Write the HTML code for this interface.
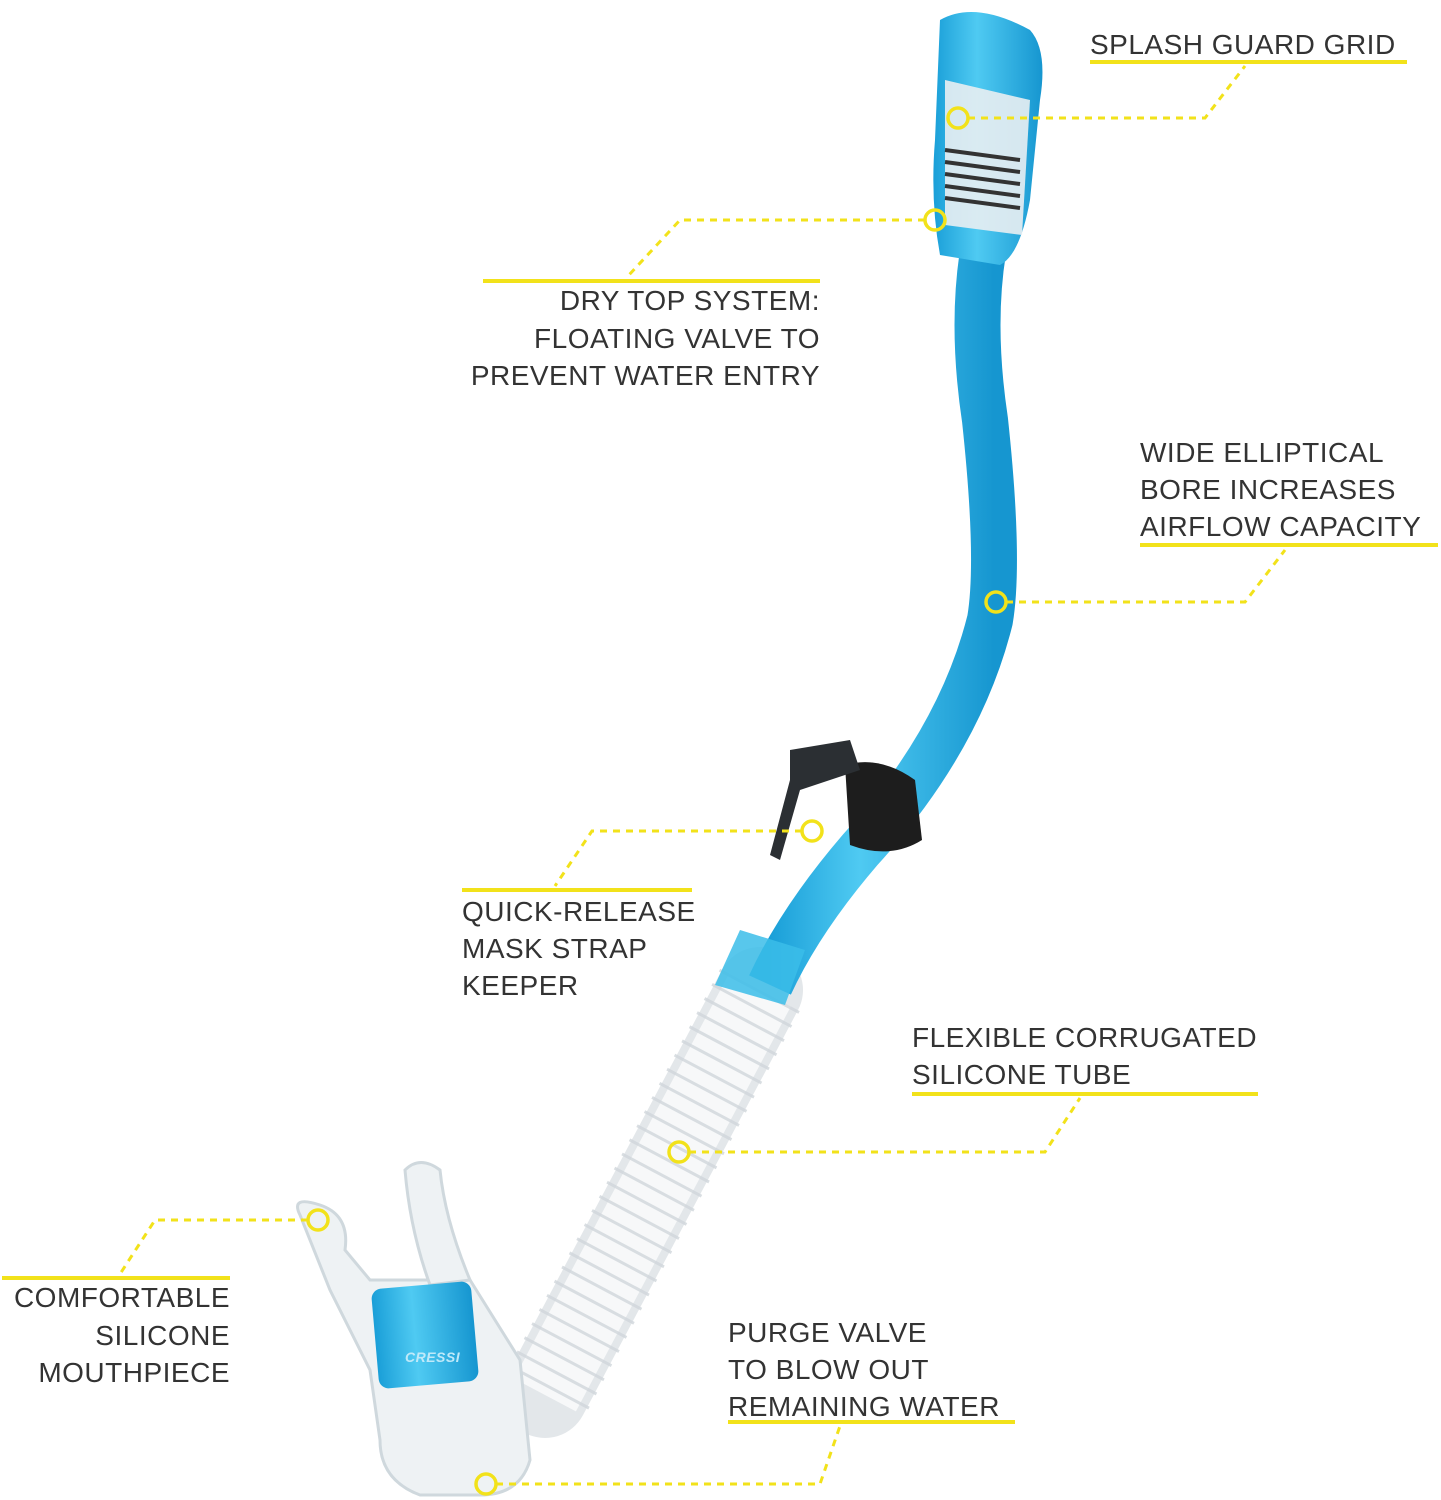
<!DOCTYPE html>
<html><head><meta charset="utf-8"><style>
html,body{margin:0;padding:0;background:#fff;}
svg{display:block}
text{font-family:"Liberation Sans",sans-serif;font-size:28px;fill:#333;letter-spacing:0.5px}
.u{stroke:#f2e21a;stroke-width:4}
.d{stroke:#f2e21a;stroke-width:3;stroke-dasharray:7 6;fill:none}
.c{stroke:#f2e21a;stroke-width:3.5;fill:none}
</style></head><body>
<svg width="1441" height="1500" viewBox="0 0 1441 1500" xmlns="http://www.w3.org/2000/svg">
<defs>
<linearGradient id="bl" x1="0" y1="0" x2="1" y2="0">
<stop offset="0" stop-color="#1a9fd8"/><stop offset="0.4" stop-color="#4fcaf2"/><stop offset="1" stop-color="#1696d0"/>
</linearGradient>
</defs>
<path d="M760 990 L545 1395" stroke="#e3e7ea" stroke-width="86" fill="none" stroke-linecap="round"/>
<path d="M760 990 L545 1395" stroke="#f7f8f9" stroke-width="70" fill="none"/>
<path d="M760 990 L545 1395" stroke="#cfd6db" stroke-width="90" fill="none" stroke-dasharray="3 13" opacity="0.8"/>
<path d="M300 1215 Q290 1195 320 1205 Q350 1215 345 1250 L370 1280 L470 1280 L520 1360 L530 1460 Q520 1495 480 1495 L420 1495 Q380 1480 380 1440 L370 1370 L330 1290 Z" fill="#eef2f4" stroke="#cfd8dd" stroke-width="3"/>
<path d="M405 1170 Q420 1155 440 1170 Q445 1220 470 1280 L430 1285 Q410 1230 405 1170Z" fill="#eef2f4" stroke="#cfd8dd" stroke-width="3"/>
<rect x="375" y="1285" width="100" height="100" rx="10" fill="url(#bl)" transform="rotate(-5 425 1335)"/>
<text x="405" y="1362" style="font-size:14px;fill:#bfe9f9;font-weight:bold;font-style:italic">CRESSI</text>
<path d="M985 240 Q970 320 985 420 Q1000 560 990 620 Q960 740 860 850 Q800 920 770 985" stroke="url(#bl)" stroke-width="46" fill="none"/>
<path d="M740 930 L805 950 L785 1005 L715 985 Z" fill="#3bbde9" opacity="0.85"/>
<path d="M940 20 Q975 0 1030 30 Q1048 50 1040 100 L1030 200 Q1020 255 1000 265 L940 255 Q930 200 935 140 Z" fill="url(#bl)"/>
<path d="M945 80 L1030 100 L1022 235 L945 225 Z" fill="#e9eef2" opacity="0.9"/>
<g stroke="#333" stroke-width="4">
<line x1="945" y1="150" x2="1020" y2="160"/><line x1="945" y1="162" x2="1020" y2="172"/><line x1="945" y1="174" x2="1020" y2="184"/><line x1="945" y1="186" x2="1020" y2="196"/><line x1="945" y1="198" x2="1020" y2="208"/>
</g>
<path d="M845 765 Q880 755 915 780 L922 840 Q890 860 850 845 Z" fill="#1d1d1d"/>
<path d="M790 750 L850 740 L860 770 L800 790 L780 860 L770 855 L790 780 Z" fill="#2b2f33"/>

<line class="u" x1="1090" y1="62" x2="1407" y2="62"/>
<path class="d" d="M968 118 L1205 118 L1245 66"/><circle class="c" cx="958" cy="118" r="10"/>
<text x="1090" y="54">SPLASH GUARD GRID</text>

<line class="u" x1="483" y1="281" x2="820" y2="281"/>
<path class="d" d="M925 220 L680 220 L628 276"/><circle class="c" cx="935" cy="220" r="10"/>
<text x="820" y="310" text-anchor="end">DRY TOP SYSTEM:</text>
<text x="820" y="348" text-anchor="end">FLOATING VALVE TO</text>
<text x="820" y="385" text-anchor="end">PREVENT WATER ENTRY</text>

<line class="u" x1="1140" y1="545" x2="1438" y2="545"/>
<path class="d" d="M1006 602 L1245 602 L1285 550"/><circle class="c" cx="996" cy="602" r="10"/>
<text x="1140" y="462">WIDE ELLIPTICAL</text>
<text x="1140" y="499">BORE INCREASES</text>
<text x="1140" y="536">AIRFLOW CAPACITY</text>

<line class="u" x1="462" y1="890" x2="692" y2="890"/>
<path class="d" d="M802 831 L592 831 L555 886"/><circle class="c" cx="812" cy="831" r="10"/>
<text x="462" y="921">QUICK-RELEASE</text>
<text x="462" y="958">MASK STRAP</text>
<text x="462" y="995">KEEPER</text>

<line class="u" x1="912" y1="1094" x2="1258" y2="1094"/>
<path class="d" d="M689 1152 L1045 1152 L1080 1098"/><circle class="c" cx="679" cy="1152" r="10"/>
<text x="912" y="1047">FLEXIBLE CORRUGATED</text>
<text x="912" y="1084">SILICONE TUBE</text>

<line class="u" x1="2" y1="1278" x2="230" y2="1278"/>
<path class="d" d="M308 1220 L155 1220 L120 1274"/><circle class="c" cx="318" cy="1220" r="10"/>
<text x="230" y="1307" text-anchor="end">COMFORTABLE</text>
<text x="230" y="1345" text-anchor="end">SILICONE</text>
<text x="230" y="1382" text-anchor="end">MOUTHPIECE</text>

<line class="u" x1="728" y1="1422" x2="1015" y2="1422"/>
<path class="d" d="M496 1484 L820 1484 L840 1426"/><circle class="c" cx="486" cy="1484" r="10"/>
<text x="728" y="1342">PURGE VALVE</text>
<text x="728" y="1379">TO BLOW OUT</text>
<text x="728" y="1416">REMAINING WATER</text>
</svg>
</body></html>
